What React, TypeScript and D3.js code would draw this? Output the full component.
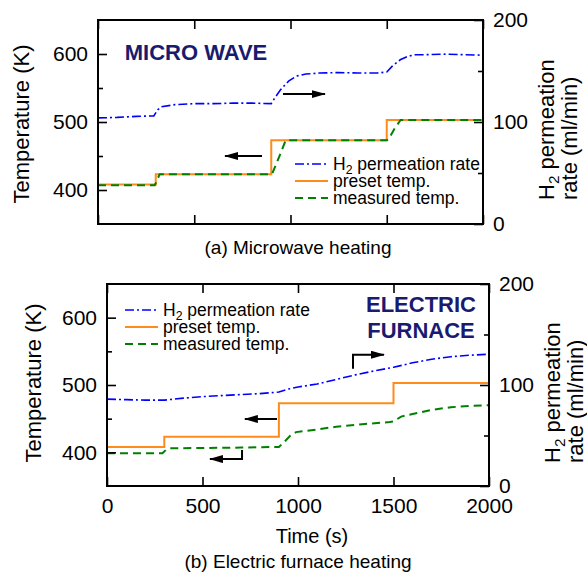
import React, { useEffect, useRef } from 'react';
import * as d3 from 'd3';

const FONT = '"Liberation Sans", Arial, Helvetica, sans-serif';

// preset temperature steps (same program in both runs)
const presetTime = [0, 300, 900, 1500, 2000];
const presetTemp = [408, 423, 473, 503, 503];

// (a) microwave heating
const mwRateTime = [0, 100, 200, 290, 310, 330, 400, 500, 600, 700, 800, 900, 920, 950, 990, 1030, 1080, 1150, 1250, 1350, 1450, 1500, 1530, 1570, 1610, 1650, 1700, 1800, 1900, 2000];
const mwRate = [104, 104.5, 105.5, 106, 112, 115, 117, 118, 118, 118.5, 118.5, 118, 124, 132, 140, 145, 147, 148, 148.5, 148, 148, 149, 155, 161, 164.5, 166, 166, 166.5, 166, 165.5];
const mwMeasTime = [0, 295, 320, 900, 905, 940, 975, 1500, 1510, 1540, 1572, 2000];
const mwMeasTemp = [407, 407, 423, 423, 424, 448, 473, 473, 475, 490, 503, 503];

// (b) electric furnace heating
const efRateTime = [0, 100, 200, 300, 400, 500, 600, 700, 800, 900, 950, 1000, 1100, 1200, 1300, 1400, 1500, 1600, 1700, 1800, 1900, 2000];
const efRate = [86, 85.5, 85, 85, 87, 88.5, 89.5, 90.5, 91.5, 93, 96, 98, 101, 105.5, 110, 114, 117.5, 122, 125.5, 128, 129.5, 130.5];
const efMeasTime = [0, 290, 310, 330, 500, 700, 900, 930, 960, 990, 1100, 1200, 1350, 1480, 1500, 1540, 1600, 1700, 1800, 1900, 2000];
const efMeasTemp = [398.5, 398.5, 404, 406, 406.5, 407, 408, 416, 425, 430, 434, 438, 442, 445, 446, 453, 457, 463, 467, 469, 470];

const legendLabels = ['H2 permeation rate', 'preset temp.', 'measured temp.'];
const xTicks = [0, 500, 1000, 1500, 2000];
const tempTicks = [400, 500, 600];
const tempMinor = [450, 550];
const rateTicks = [0, 100, 200];
const rateMinor = [50, 150];

// annotation arrows, in (time, temperature) units
const mwArrows = [
  [[852, 450], [660, 450]],
  [[961, 541], [1179, 541]],
];
const efArrows = [
  [[890, 449.5], [722, 449.5]],
  [[707, 403.5], [707, 390], [539, 390]],
  [[1288, 524], [1288, 545], [1450, 545]],
];

const panels = [
  {
    left: 98, right: 483, top: 20, bottom: 224,
    rateTime: mwRateTime, rate: mwRate, measTime: mwMeasTime, meas: mwMeasTemp,
    arrows: mwArrows, showX: false,
    title: ['MICRO WAVE'], titleX: 196, titleY: 60, titleAnchor: 'middle',
    legendX: 295, legendY: 164,
    leftTitleX: 29, leftTitleY: 124, rightTitleX: 554, rightTitleY: 200,
    caption: '(a) Microwave heating', captionY: 254,
  },
  {
    left: 107, right: 489, top: 284, bottom: 486,
    rateTime: efRateTime, rate: efRate, measTime: efMeasTime, meas: efMeasTemp,
    arrows: efArrows, showX: true,
    title: ['ELECTRIC', 'FURNACE'], titleX: 421, titleY: 312, titleAnchor: 'middle',
    legendX: 125, legendY: 310,
    leftTitleX: 41, leftTitleY: 383, rightTitleX: 560, rightTitleY: 463,
    caption: '(b) Electric furnace heating', captionY: 568,
  },
];

const colors = { rate: '#0000ff', preset: '#ff8c1a', meas: '#008000', title: '#1a1a6e' };

function subLabel(sel: any, label: string, size: number) {
  if (label.startsWith('H2')) {
    sel.append('tspan').text('H');
    sel.append('tspan').attr('font-size', size * 0.7).attr('baseline-shift', -size * 0.22).text('2');
    sel.append('tspan').text(label.slice(2));
  } else {
    sel.text(label);
  }
}

function drawPanel(svg: any, p: any) {
  const x = d3.scaleLinear().domain([0, 2000]).range([p.left, p.right]);
  const yT = d3.scaleLinear().domain([350, 650]).range([p.bottom, p.top]);
  const yR = d3.scaleLinear().domain([0, 200]).range([p.bottom, p.top]);
  const g = svg.append('g');

  // data lines
  const rateLine = d3.line<number>().x((d, i) => x(p.rateTime[i])).y(d => yR(d));
  g.append('path').attr('d', rateLine(p.rate)).attr('fill', 'none')
    .attr('stroke', colors.rate).attr('stroke-width', 1.6).attr('stroke-dasharray', '9,3,2,3');

  const presetLine = d3.line<number>().x((d, i) => x(presetTime[i])).y(d => yT(d)).curve(d3.curveStepAfter);
  g.append('path').attr('d', presetLine(presetTemp)).attr('fill', 'none')
    .attr('stroke', colors.preset).attr('stroke-width', 2);

  const measLine = d3.line<number>().x((d, i) => x(p.measTime[i])).y(d => yT(d));
  g.append('path').attr('d', measLine(p.meas)).attr('fill', 'none')
    .attr('stroke', colors.meas).attr('stroke-width', 2).attr('stroke-dasharray', '8,5');

  // arrows
  p.arrows.forEach((a: number[][]) => {
    g.append('path')
      .attr('d', d3.line<number[]>().x(d => x(d[0])).y(d => yT(d[1]))(a))
      .attr('fill', 'none').attr('stroke', '#000').attr('stroke-width', 2)
      .attr('marker-end', 'url(#arrowhead)');
  });

  // axes (ticks pointing inward)
  const tickStyle = (ax: any) => {
    ax.select('.domain').remove();
    ax.selectAll('line').attr('stroke', '#000').attr('stroke-width', 1.6);
    ax.selectAll('text').attr('font-family', FONT).attr('font-size', 21).attr('fill', '#000');
  };
  g.append('g').attr('transform', `translate(${p.left},0)`)
    .call(d3.axisLeft(yT).tickValues(tempTicks).tickSizeInner(-9).tickSizeOuter(0).tickPadding(10))
    .call(tickStyle);
  g.append('g').attr('transform', `translate(${p.left},0)`)
    .call(d3.axisLeft(yT).tickValues(tempMinor).tickSizeInner(-5).tickSizeOuter(0).tickFormat(() => ''))
    .call(tickStyle);
  g.append('g').attr('transform', `translate(${p.right},0)`)
    .call(d3.axisRight(yR).tickValues(rateTicks).tickSizeInner(-9).tickSizeOuter(0).tickPadding(10))
    .call(tickStyle);
  g.append('g').attr('transform', `translate(${p.right},0)`)
    .call(d3.axisRight(yR).tickValues(rateMinor).tickSizeInner(-5).tickSizeOuter(0).tickFormat(() => ''))
    .call(tickStyle);
  g.append('g').attr('transform', `translate(0,${p.bottom})`)
    .call(d3.axisBottom(x).tickValues(xTicks).tickSizeInner(-9).tickSizeOuter(0).tickPadding(12)
      .tickFormat(p.showX ? d3.format('d') : () => ''))
    .call(tickStyle);
  g.append('g').attr('transform', `translate(0,${p.top})`)
    .call(d3.axisTop(x).tickValues(xTicks).tickSizeInner(-9).tickSizeOuter(0).tickFormat(() => ''))
    .call(tickStyle);

  g.append('rect').attr('x', p.left).attr('y', p.top)
    .attr('width', p.right - p.left).attr('height', p.bottom - p.top)
    .attr('fill', 'none').attr('stroke', '#000').attr('stroke-width', 2);

  // legend
  const legendColors = [colors.rate, colors.preset, colors.meas];
  const legendDash = ['9,3,2,3', null, '8,5'];
  legendLabels.forEach((label, i) => {
    const ly = p.legendY + i * 17;
    g.append('line').attr('x1', p.legendX).attr('x2', p.legendX + 33).attr('y1', ly).attr('y2', ly)
      .attr('stroke', legendColors[i]).attr('stroke-width', i === 0 ? 1.6 : 2)
      .attr('stroke-dasharray', legendDash[i]);
    const t = g.append('text').attr('x', p.legendX + 38).attr('y', ly + 6)
      .attr('font-family', FONT).attr('font-size', 17.5).attr('fill', '#000');
    subLabel(t, label, 17.5);
  });

  // in-plot title
  p.title.forEach((s: string, i: number) => {
    g.append('text').attr('x', p.titleX).attr('y', p.titleY + i * 26)
      .attr('text-anchor', p.titleAnchor).attr('font-family', FONT).attr('font-size', 22)
      .attr('font-weight', 'bold').attr('fill', colors.title).text(s);
  });

  // axis titles
  g.append('text').attr('transform', `translate(${p.leftTitleX},${p.leftTitleY}) rotate(-90)`)
    .attr('text-anchor', 'middle').attr('font-family', FONT).attr('font-size', 22).text('Temperature (K)');
  const r1 = g.append('text').attr('transform', `translate(${p.rightTitleX},${p.rightTitleY}) rotate(-90)`)
    .attr('font-family', FONT).attr('font-size', 22);
  subLabel(r1, 'H2 permeation', 22);
  g.append('text').attr('transform', `translate(${p.rightTitleX + 23},${p.rightTitleY}) rotate(-90)`)
    .attr('font-family', FONT).attr('font-size', 22).text('rate (ml/min)');

  if (p.showX) {
    g.append('text').attr('x', 312).attr('y', 543).attr('text-anchor', 'middle')
      .attr('font-family', FONT).attr('font-size', 20).text('Time (s)');
  }
  g.append('text').attr('x', 298).attr('y', p.captionY).attr('text-anchor', 'middle')
    .attr('font-family', FONT).attr('font-size', 19).text(p.caption);
}

const App = () => {
  const svgRef = useRef<SVGSVGElement>(null);

  useEffect(() => {
    const svg = d3.select(svgRef.current);
    svg.selectAll('*').remove();
    svg.append('defs').append('marker')
      .attr('id', 'arrowhead').attr('markerUnits', 'userSpaceOnUse')
      .attr('markerWidth', 14).attr('markerHeight', 10)
      .attr('refX', 13).attr('refY', 4).attr('orient', 'auto')
      .append('path').attr('d', 'M0,0 L14,4 L0,8 Z').attr('fill', '#000');
    panels.forEach(p => drawPanel(svg, p));
  }, []);

  return (
    <div style={{ position: 'absolute', left: 0, top: 0 }}>
      <svg ref={svgRef} width={587} height={574} style={{ display: 'block', background: '#fff' }}>
      </svg>
    </div>
  );
};

export default App;
